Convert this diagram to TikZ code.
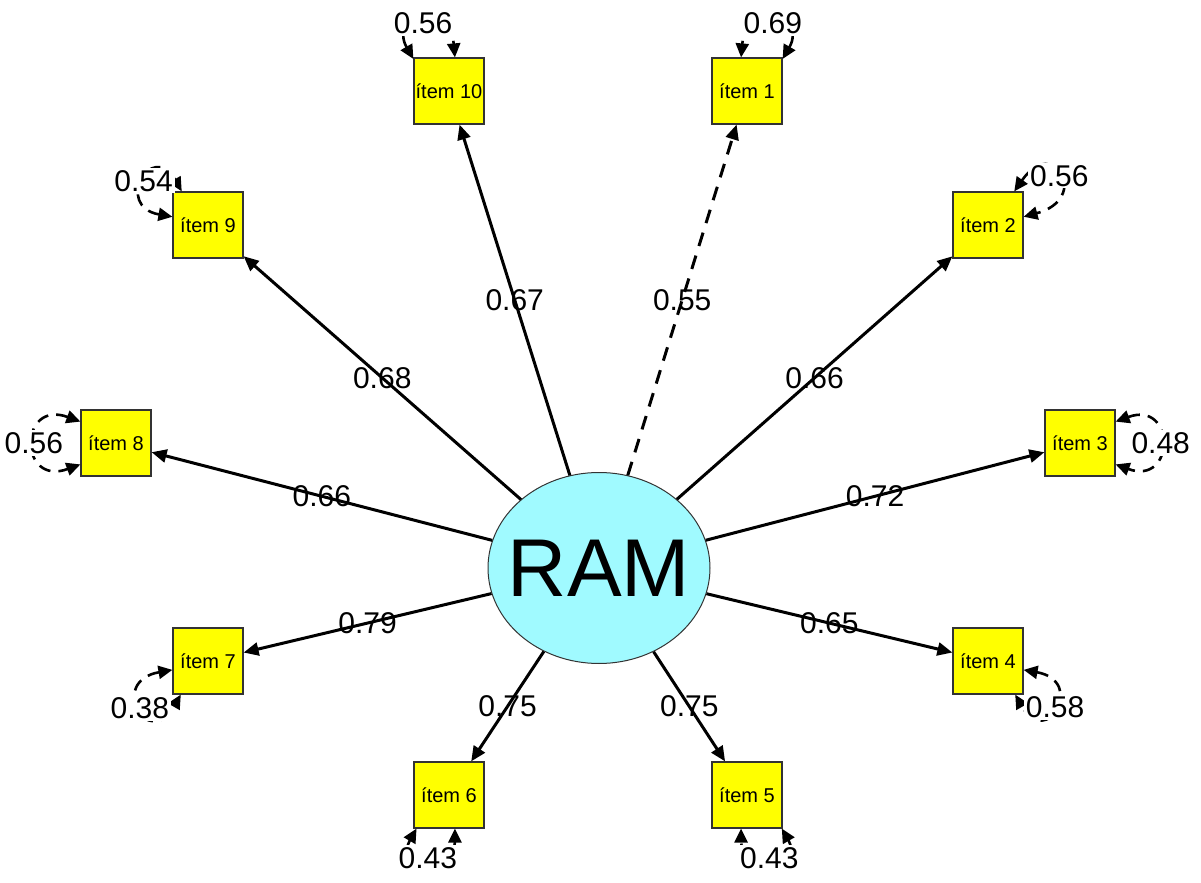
\documentclass[tikz,border=0pt]{standalone}
\usepackage{fontspec}
\setmainfont{Liberation Sans}
\usepackage{tikz}
\usetikzlibrary{shapes,arrows.meta}
\definecolor{itemyellow}{RGB}{255, 255, 0}
\definecolor{ramcyan}{RGB}{160, 250, 255}
\tikzstyle{item} = [rectangle, draw=black!80, line width=0.6pt, fill=itemyellow, text=black, minimum width=35pt, minimum height=33pt, inner sep=0pt, font=\fontsize{10}{12}\selectfont]
\tikzstyle{latent} = [ellipse, draw=black!80, line width=0.5pt, fill=ramcyan, text=black, minimum width=111pt, minimum height=95.5pt, inner xsep=-7pt, inner ysep=0pt, font=\fontsize{41}{48}\selectfont]
\tikzstyle{elabel} = [draw=none, fill=none, inner sep=0pt, font=\fontsize{15}{18}\selectfont]
\tikzstyle{rlabel} = [draw=none, fill=white, inner sep=1pt, font=\fontsize{15}{18}\selectfont]
\tikzstyle{tedge}  = [draw, line width=1.5pt, >={Triangle[length=7.5pt,width=6.5pt]}, ->]
\tikzstyle{redge}  = [draw, line width=1.3pt, dash pattern=on 6pt off 4pt, >={Triangle[length=7pt,width=6.5pt]}, <->]

\begin{document}
\begin{tikzpicture}[x=0.5pt, y=0.5pt]

\useasboundingbox (0,0) rectangle (1201,-883);

% nodes =============================

% latent
\node[latent] (ram) at (599,-568) {RAM};

% items
\node[item] (i1) at (747,-91) {ítem 1};
\node[item] (i2) at (988,-225) {ítem 2};
\node[item] (i3) at (1080,-443) {ítem 3};
\node[item] (i4) at (988,-661) {ítem 4};
\node[item] (i5) at (747,-795) {ítem 5};
\node[item] (i6) at (449,-795) {ítem 6};
\node[item] (i7) at (208,-661) {ítem 7};
\node[item] (i8) at (116,-443) {ítem 8};
\node[item] (i9) at (208,-225) {ítem 9};
\node[item] (i10) at (449,-91) {ítem 10};

% loadings
\path[tedge, dashed, dash pattern=on 7pt off 5pt] (ram) -- node[elabel] {0.55} (i1);
\path[tedge] (ram) -- node[elabel] {0.66} (i2);
\path[tedge] (ram) -- node[elabel] {0.72} (i3);
\path[tedge] (ram) -- node[elabel] {0.65} (i4);
\path[tedge] (ram) -- node[elabel] {0.75} (i5);
\path[tedge] (ram) -- node[elabel] {0.75} (i6);
\path[tedge] (ram) -- node[elabel] {0.79} (i7);
\path[tedge] (ram) -- node[elabel] {0.66} (i8);
\path[tedge] (ram) -- node[elabel] {0.68} (i9);
\path[tedge] (ram) -- node[elabel] {0.67} (i10);

% residuals
\path[redge] (i1.42) to[out=60, in=85, distance=25pt] node[rlabel] {0.69} (i1.100);
\path[redge] (i2.52) to[out=55, in=15, distance=35pt] node[rlabel] {0.56} (i2.13);
\path[redge] (i3.31) to[out=20, in=-20, distance=32pt] node[rlabel] {0.48} (i3.-31);
\path[redge] (i4.-14) to[out=-10, in=-60, distance=32pt] node[rlabel] {0.58} (i4.-51);
\path[redge] (i5.-44) to[out=-60, in=-90, distance=21pt] node[rlabel] {0.43} (i5.-100);
\path[redge] (i6.226) to[out=240, in=270, distance=21pt] node[rlabel] {0.43} (i6.280);
\path[redge] (i7.194) to[out=190, in=240, distance=33pt] node[rlabel] {0.38} (i7.231);
\path[redge] (i8.149) to[out=160, in=200, distance=33pt] node[rlabel] {0.56} (i8.211);
\path[redge] (i9.128) to[out=120, in=170, distance=30pt] node[rlabel] {0.54} (i9.167);
\path[redge] (i10.138) to[out=120, in=95, distance=25pt] node[rlabel] {0.56} (i10.80);

\end{tikzpicture}
\end{document}
